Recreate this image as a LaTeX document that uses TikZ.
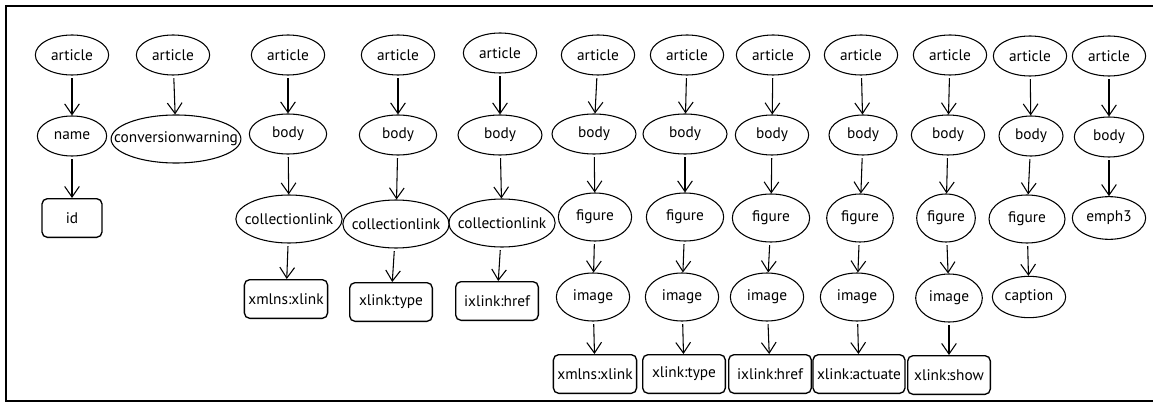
\documentclass[tikz,border=0pt]{standalone}
\usepackage{fontspec}
\setmainfont{PT Sans}
\usepackage{tikz}
\usetikzlibrary{arrows.meta,shapes.geometric}

\tikzset{
  elem/.style={ellipse,draw,line width=.8pt,inner xsep=-5pt,inner ysep=0pt,
    minimum width=55pt,minimum height=30pt},
  tall/.style={minimum height=36pt},
  attr/.style={draw,rounded corners=4pt,line width=1pt,inner xsep=3pt,
    minimum width=62pt,minimum height=29pt},
  link/.style={-{Straight Barb[length=8pt,width=11pt]},line width=.8pt,shorten <=2pt}
}

\begin{document}
\begin{tikzpicture}[x=.75pt,y=-.75pt,font=\fontsize{11.5}{13}\selectfont]
  \useasboundingbox (0,0) rectangle (1153,403);
  \draw[line width=1.6pt] (1153,6) -- (6,6) -- (6,401) -- (1153,401);

  % article -> name -> id
  \node[elem] (a1) at (72,55) {article};
  \node[elem,minimum width=52pt] (n1) at (72,136) {name};
  \node[attr,minimum width=45pt] (id1) at (72,218) {id};

  % article -> conversionwarning
  \node[elem] (a2) at (173,55) {article};
  \node[elem,tall,inner xsep=-12pt] (cw2) at (176,139) {conversionwarning};

  % article -> body -> collectionlink -> attribute
  \node[elem] (a3) at (288,55) {article};
  \node[elem,minimum width=58pt] (b3) at (288,134) {body};
  \node[elem,tall] (c3) at (289,219) {collectionlink};
  \node[attr] (x3) at (286,299) {xmlns:xlink};

  \node[elem] (a4) at (398,55) {article};
  \node[elem,minimum width=58pt] (b4) at (398,135) {body};
  \node[elem,tall] (c4) at (396,224) {collectionlink};
  \node[attr] (x4) at (391,302) {xlink:type};

  \node[elem] (a5) at (500,53) {article};
  \node[elem,minimum width=63pt] (b5) at (500,135) {body};
  \node[elem,tall] (c5) at (502,223) {collectionlink};
  \node[attr] (x5) at (497,301) {ixlink:href};

  % article -> body -> figure -> image -> attribute
  \node[elem] (a6) at (598,55) {article};
  \node[elem,minimum width=63pt] (b6) at (594,134) {body};
  \node[elem,tall] (f6) at (595,217) {figure};
  \node[elem,tall] (i6) at (593,297) {image};
  \node[attr] (x6) at (595,374) {xmlns:xlink};

  \node[elem] (a7) at (687,55) {article};
  \node[elem,minimum width=63pt] (b7) at (685,134) {body};
  \node[elem,tall,minimum width=58pt] (f7) at (685,217) {figure};
  \node[elem,tall] (i7) at (682,297) {image};
  \node[attr] (x7) at (684,374) {xlink:type};

  \node[elem] (a8) at (773,55) {article};
  \node[elem] (b8) at (772,135) {body};
  \node[elem,tall,minimum width=58pt] (f8) at (771,218) {figure};
  \node[elem,tall] (i8) at (767,297) {image};
  \node[attr] (x8) at (770,374) {ixlink:href};

  \node[elem] (a9) at (861,55) {article};
  \node[elem,minimum width=51pt] (b9) at (863,135) {body};
  \node[elem,tall,minimum width=50pt] (f9) at (860,218) {figure};
  \node[elem,tall] (i9) at (857,297) {image};
  \node[attr] (x9) at (859,374) {xlink:actuate};

  \node[elem] (a10) at (950,55) {article};
  \node[elem] (b10) at (948,135) {body};
  \node[elem,tall,minimum width=44pt] (f10) at (946,218) {figure};
  \node[elem,tall,minimum width=50pt] (i10) at (949,298) {image};
  \node[attr] (x10) at (949,375) {xlink:show};

  % article -> body -> figure -> caption
  \node[elem] (a11) at (1030,56) {article};
  \node[elem,minimum width=48pt] (b11) at (1031,136) {body};
  \node[elem,tall,minimum width=57pt] (f11) at (1027,219) {figure};
  \node[elem,minimum height=31pt] (cap11) at (1029,297) {caption};

  % article -> body -> emph3
  \node[elem] (a12) at (1109,56) {article};
  \node[elem,minimum width=52pt] (b12) at (1109,137) {body};
  \node[elem,minimum height=32pt] (e12) at (1109,218) {emph3};

  \foreach \p/\c in {a1/n1,n1/id1,a2/cw2,
      a3/b3,b3/c3,c3/x3,a4/b4,b4/c4,c4/x4,a5/b5,b5/c5,c5/x5,
      a6/b6,b6/f6,f6/i6,i6/x6,a7/b7,b7/f7,f7/i7,i7/x7,
      a8/b8,b8/f8,f8/i8,i8/x8,a9/b9,b9/f9,f9/i9,i9/x9,
      a10/b10,b10/f10,f10/i10,i10/x10,
      a11/b11,b11/f11,f11/cap11,a12/b12,b12/e12}
    \draw[link] (\p) -- (\c);
\end{tikzpicture}
\end{document}
